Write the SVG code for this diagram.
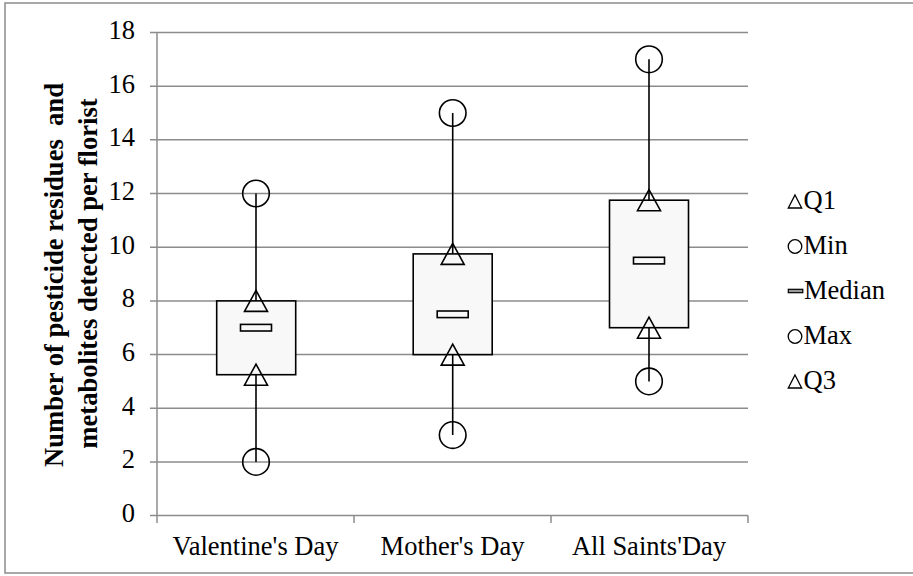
<svg xmlns="http://www.w3.org/2000/svg" width="913" height="576" viewBox="0 0 913 576">
<style>
.frame{fill:#ffffff;stroke:#8c8c8c;stroke-width:1.5}
.grid{stroke:#8c8c8c;stroke-width:1.5;fill:none}
.tick{font-family:"Liberation Serif","Times New Roman",serif;font-size:26.5px;fill:#000;text-anchor:end}
.cat{font-family:"Liberation Serif","Times New Roman",serif;font-size:26.5px;fill:#000;text-anchor:middle}
.title{font-family:"Liberation Serif","Times New Roman",serif;font-size:26.6px;font-weight:bold;fill:#000;text-anchor:middle}
.leg{font-family:"Liberation Serif","Times New Roman",serif;font-size:26.5px;fill:#000}
.whisker{stroke:#000;stroke-width:1.6;fill:none}
.box{fill:#f8f8f8;stroke:#000;stroke-width:1.6}
.med{fill:#f8f8f8;stroke:#000;stroke-width:1.6}
.mk{fill:none;stroke:#000;stroke-width:1.6}
.lmk{fill:none;stroke:#000;stroke-width:1.3}
</style>
<defs>
<polygon id="tri" points="0,-10.5 11.5,10.5 -11.5,10.5"/>
<circle id="circ" r="13.3" cx="0" cy="0"/>
<rect id="medr" x="-15.5" y="-3.3" width="31" height="6.6"/>
</defs>
<rect class="frame" x="5" y="3" width="915" height="570"/>
<g id="axes">
<g class="grid">
<line x1="150" y1="32.5" x2="748" y2="32.5"/>
<line x1="150" y1="86.2" x2="748" y2="86.2"/>
<line x1="150" y1="139.8" x2="748" y2="139.8"/>
<line x1="150" y1="193.5" x2="748" y2="193.5"/>
<line x1="150" y1="247.2" x2="748" y2="247.2"/>
<line x1="150" y1="300.9" x2="748" y2="300.9"/>
<line x1="150" y1="354.6" x2="748" y2="354.6"/>
<line x1="150" y1="408.2" x2="748" y2="408.2"/>
<line x1="150" y1="461.9" x2="748" y2="461.9"/>
<line x1="150" y1="515.6" x2="748" y2="515.6"/>
<line x1="157" y1="32.5" x2="157" y2="523"/>
<line x1="354" y1="515.6" x2="354" y2="523"/>
<line x1="551" y1="515.6" x2="551" y2="523"/>
<line x1="748" y1="515.6" x2="748" y2="523"/>
</g>
<g class="tick">
<text x="135" y="38.8">18</text>
<text x="135" y="92.5">16</text>
<text x="135" y="146.1">14</text>
<text x="135" y="199.8">12</text>
<text x="135" y="253.5">10</text>
<text x="135" y="307.2">8</text>
<text x="135" y="360.9">6</text>
<text x="135" y="414.5">4</text>
<text x="135" y="468.2">2</text>
<text x="135" y="521.9">0</text>
</g>
<g class="cat">
<text x="255.5" y="555">Valentine's Day</text>
<text x="452.5" y="555">Mother's Day</text>
<text x="649" y="555">All Saints'Day</text>
</g>
<g class="title">
<text transform="translate(63.3,275) rotate(-90)" xml:space="preserve">Number of pesticide residues  and</text>
<text transform="translate(96.5,273.5) rotate(-90)">metabolites detected per florist</text>
</g>
</g>
<g id="connectors">
<line class="whisker" x1="256" y1="193.5" x2="256" y2="461.9"/>
<line class="whisker" x1="452.7" y1="113" x2="452.7" y2="435.1"/>
<line class="whisker" x1="649" y1="59.3" x2="649" y2="381.4"/>
</g>
<g id="valentines">
<rect class="box" x="216.7" y="300.9" width="79" height="73.8"/>
<use href="#medr" class="med" x="256" y="327.7"/>
<use href="#tri" class="mk" x="256" y="300.9"/>
<use href="#tri" class="mk" x="256" y="374.7"/>
<use href="#circ" class="mk" x="256" y="193.5"/>
<use href="#circ" class="mk" x="256" y="461.9"/>
</g>
<g id="mothers">
<rect class="box" x="413.2" y="253.9" width="79" height="100.7"/>
<use href="#medr" class="med" x="452.7" y="314.3"/>
<use href="#tri" class="mk" x="452.7" y="253.9"/>
<use href="#tri" class="mk" x="452.7" y="354.6"/>
<use href="#circ" class="mk" x="452.7" y="113"/>
<use href="#circ" class="mk" x="452.7" y="435.1"/>
</g>
<g id="allsaints">
<rect class="box" x="609.5" y="200.2" width="79" height="127.5"/>
<use href="#medr" class="med" x="649" y="260.6"/>
<use href="#tri" class="mk" x="649" y="200.2"/>
<use href="#tri" class="mk" x="649" y="327.7"/>
<use href="#circ" class="mk" x="649" y="59.3"/>
<use href="#circ" class="mk" x="649" y="381.4"/>
</g>
<g id="legend">
<polygon class="lmk" points="795,195 801.7,208 788.3,208"/>
<text class="leg" x="803.5" y="209.3">Q1</text>
<circle class="lmk" cx="795" cy="246.5" r="6.8"/>
<text class="leg" x="803.5" y="254.3">Min</text>
<rect x="788.3" y="289.3" width="14.5" height="3.4" fill="#999" stroke="#000" stroke-width="1.2"/>
<text class="leg" x="804" y="299.3">Median</text>
<circle class="lmk" cx="795" cy="336.5" r="6.8"/>
<text class="leg" x="803.5" y="344.3">Max</text>
<polygon class="lmk" points="795,375 801.7,388 788.3,388"/>
<text class="leg" x="803.5" y="389.3">Q3</text>
</g>
</svg>
